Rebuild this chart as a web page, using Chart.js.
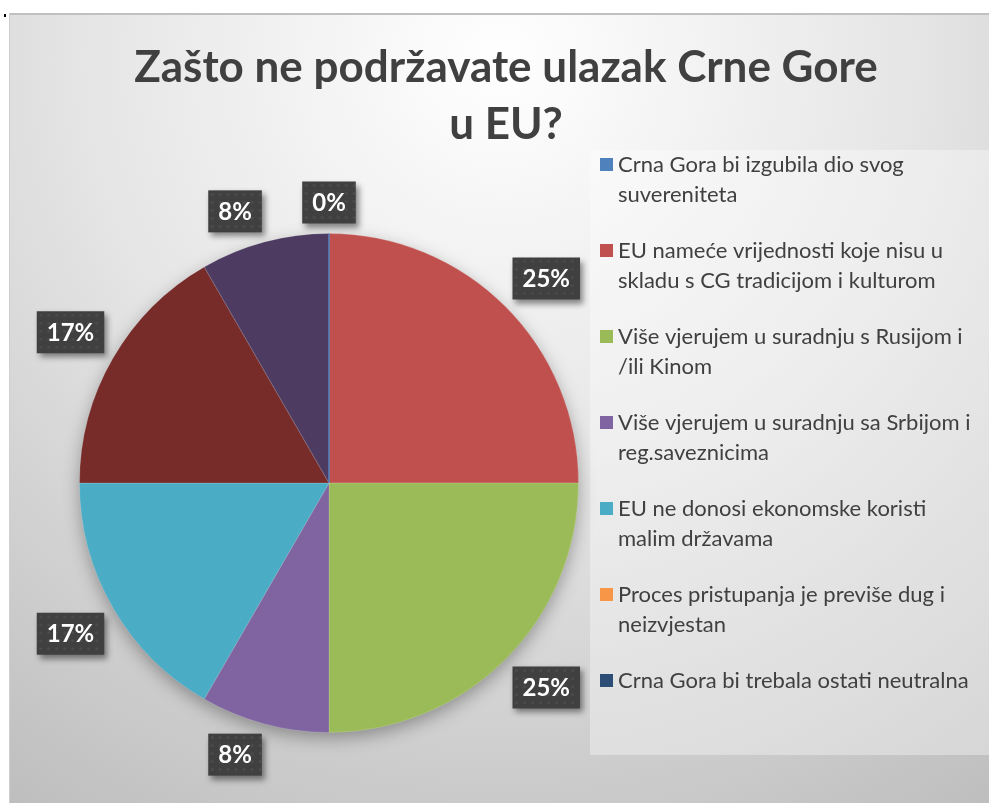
<!DOCTYPE html>
<html>
<head>
<meta charset="utf-8">
<script src="https://cdn.jsdelivr.net/npm/chart.js@4.4.1/dist/chart.umd.min.js"></script>
<style>
  html, body { margin: 0; padding: 0; background: #fff; }
  #wrap { width: 989px; height: 803px; }
</style>
</head>
<body>
<div id="wrap"><canvas id="pie" width="989" height="803"></canvas></div>
<script>
// ===== 數據 =====
const TITLE_LINES = ["Zašto ne podržavate ulazak Crne Gore", "u EU?"];
const CATEGORIES = [
  "Crna Gora bi izgubila dio svog suvereniteta",
  "EU nameće vrijednosti koje nisu u skladu s CG tradicijom i kulturom",
  "Više vjerujem u suradnju s Rusijom i /ili Kinom",
  "Više vjerujem u suradnju sa Srbijom i reg.saveznicima",
  "EU ne donosi ekonomske koristi malim državama",
  "Proces pristupanja je previše dug i neizvjestan",
  "Crna Gora bi trebala ostati neutralna",
  "",
  ""
];
// legend wraps the same way as the original
const LEGEND_LINES = [
  ["Crna Gora bi izgubila dio svog", "suvereniteta"],
  ["EU nameće vrijednosti koje nisu u", "skladu s CG tradicijom i kulturom"],
  ["Više vjerujem u suradnju s Rusijom i", "/ili Kinom"],
  ["Više vjerujem u suradnju sa Srbijom i", "reg.saveznicima"],
  ["EU ne donosi ekonomske koristi", "malim državama"],
  ["Proces pristupanja je previše dug i", "neizvjestan"],
  ["Crna Gora bi trebala ostati neutralna"]
];
const COUNTS = [0, 3, 3, 1, 2, 0, 0, 2, 1];
const COLORS = ["#4F81BD", "#C0504D", "#9BBB59", "#8064A2", "#4BACC6", "#F79646", "#2C4D75", "#772C2A", "#4D3B62"];
const LEGEND_COUNT = 7;

const FONT = "Lato, 'Open Sans', sans-serif";

// ===== 背景 / 標題 / 圖例 =====
const bgPlugin = {
  id: "bg",
  beforeDraw(chart){
    const ctx = chart.ctx;
    const W = chart.width, H = chart.height;
    ctx.save();
    ctx.fillStyle = "#ffffff";
    ctx.fillRect(0, 0, W, H);
    const g = ctx.createRadialGradient(500, 60, 0, 500, 60, 900);
    g.addColorStop(0, "#ffffff");
    g.addColorStop(0.45, "#e6e6e6");
    g.addColorStop(1, "#bdbdbd");
    ctx.fillStyle = g;
    ctx.fillRect(9, 13, W - 9, H - 13);
    ctx.fillStyle = "#c0c0c0";
    ctx.fillRect(9, 13, W - 9, 2);
    ctx.fillStyle = "#d0d0d0";
    ctx.fillRect(9, 13, 1, H - 13);
    ctx.fillStyle = "#000";
    ctx.fillRect(4, 14, 2, 3);
    ctx.fillStyle = "rgba(255,255,255,0.35)";
    ctx.fillRect(590, 150, W - 590, 605);

    ctx.fillStyle = "#404040";
    ctx.font = "bold 44px " + FONT;
    ctx.textAlign = "center";
    ctx.textBaseline = "middle";
    ctx.fillText(TITLE_LINES[0], 506, 68);
    ctx.fillText(TITLE_LINES[1], 506, 125);

    ctx.font = "22px " + FONT;
    ctx.textAlign = "left";
    for (let i = 0; i < LEGEND_COUNT; i++){
      const y0 = 165 + i * 86;
      ctx.fillStyle = COLORS[i];
      ctx.fillRect(600, y0 - 7, 13, 13);
      ctx.fillStyle = "#404040";
      LEGEND_LINES[i].forEach((t, k) => ctx.fillText(t, 618, y0 + k * 29.5));
    }
    ctx.restore();
  },
  beforeDatasetsDraw(chart){
    const arc = chart.getDatasetMeta(0).data[0];
    if (!arc) return;
    const ctx = chart.ctx;
    ctx.save();
    ctx.shadowColor = "rgba(0,0,0,0.35)";
    ctx.shadowBlur = 18;
    ctx.shadowOffsetY = 6;
    ctx.fillStyle = "#999";
    ctx.beginPath();
    ctx.arc(arc.x, arc.y, arc.outerRadius - 1, 0, Math.PI * 2);
    ctx.fill();
    ctx.restore();
  },
  afterDatasetsDraw(chart){
    // zero-size first slice still shows as a thin line in the original
    const arc = chart.getDatasetMeta(0).data[0];
    if (!arc || COUNTS[0] !== 0) return;
    const ctx = chart.ctx;
    const a = arc.startAngle;
    ctx.save();
    ctx.strokeStyle = COLORS[0];
    ctx.lineWidth = 1.5;
    ctx.beginPath();
    ctx.moveTo(arc.x, arc.y);
    ctx.lineTo(arc.x + Math.cos(a) * arc.outerRadius, arc.y + Math.sin(a) * arc.outerRadius);
    ctx.stroke();
    ctx.restore();
  }
};

// ===== 資料標籤 =====
const labelPlugin = {
  id: "pctLabels",
  afterDatasetsDraw(chart){
    const ctx = chart.ctx;
    const meta = chart.getDatasetMeta(0);
    const total = COUNTS.reduce((a, b) => a + b, 0);
    ctx.save();
    ctx.font = "bold 24px " + FONT;
    ctx.textAlign = "center";
    ctx.textBaseline = "middle";
    meta.data.forEach((arc, i) => {
      if (COUNTS[i] === 0 && i !== 0) return;
      const mid = (arc.startAngle + arc.endAngle) / 2;
      const dx = Math.cos(mid), dy = Math.sin(mid);
      const r = arc.outerRadius + 10;
      const text = Math.round(COUNTS[i] / total * 100) + "%";
      const w = ctx.measureText(text).width + 20;
      const h = 42;
      const sx = Math.max(-1, Math.min(1, dx / 0.1));
      const sy = Math.max(-1, Math.min(1, dy / 0.1));
      const cx = arc.x + dx * r + sx * w / 2;
      const cy = arc.y + dy * r + sy * h / 2;
      const x = cx - w / 2, y = cy - h / 2;
      ctx.save();
      ctx.shadowColor = "rgba(0,0,0,0.45)";
      ctx.shadowBlur = 6;
      ctx.shadowOffsetX = 3;
      ctx.shadowOffsetY = 4;
      ctx.fillStyle = "#404040";
      ctx.fillRect(x, y, w, h);
      ctx.restore();
      ctx.fillStyle = "rgba(255,255,255,0.06)";
      for (let px = x + 4; px < x + w; px += 8){
        for (let py = y + 4; py < y + h; py += 8){
          ctx.beginPath();
          ctx.arc(px, py, 1.6, 0, Math.PI * 2);
          ctx.fill();
        }
      }
      ctx.fillStyle = "#ffffff";
      ctx.fillText(text, cx, cy + 1);
    });
    ctx.restore();
  }
};

new Chart(document.getElementById("pie"), {
  type: "pie",
  data: {
    labels: CATEGORIES,
    datasets: [{
      data: COUNTS,
      backgroundColor: COLORS,
      borderColor: "rgba(255,255,255,0.15)",
      borderWidth: 1
    }]
  },
  options: {
    responsive: false,
    animation: false,
    layout: { padding: { left: 79, right: 410, top: 233, bottom: 70 } },
    plugins: {
      legend: { display: false },
      title: { display: false },
      tooltip: { enabled: false }
    }
  },
  plugins: [bgPlugin, labelPlugin]
});
</script>
</body>
</html>
